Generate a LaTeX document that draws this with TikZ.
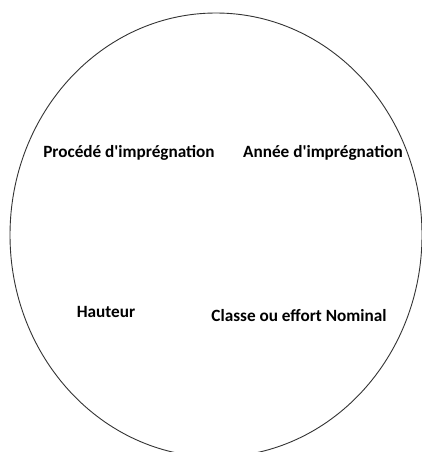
\documentclass[tikz,border=0pt]{standalone}
\usepackage{fontspec}
\setmainfont{Carlito}
\usetikzlibrary{positioning}

\begin{document}
\begin{tikzpicture}[
        x=1pt, y=-1pt,
        field/.style={font=\bfseries\fontsize{17.2}{20}\selectfont, text=black, inner sep=0pt},
        outline/.style={draw=black!80, line width=0.9pt}
    ]

    % frame
    \useasboundingbox (0,0) rectangle (422,452);
    \clip (0,0) rectangle (422,452);
    \fill[white] (0,0) rectangle (422,452);

    % the big ellipse
    \draw[outline] (216,235) ellipse [x radius=206, y radius=222];

    % fields
    \node[field] (proc) at (129,153) {Procédé d\textquotesingle imprégnation};
    \node[field] (annee) at (323,153) {Année d\textquotesingle imprégnation};
    \node[field] (haut) at (106,312) {Hauteur};
    \node[field] (classe) at (299,316) {Classe ou effort Nominal};
\end{tikzpicture}
\end{document}
